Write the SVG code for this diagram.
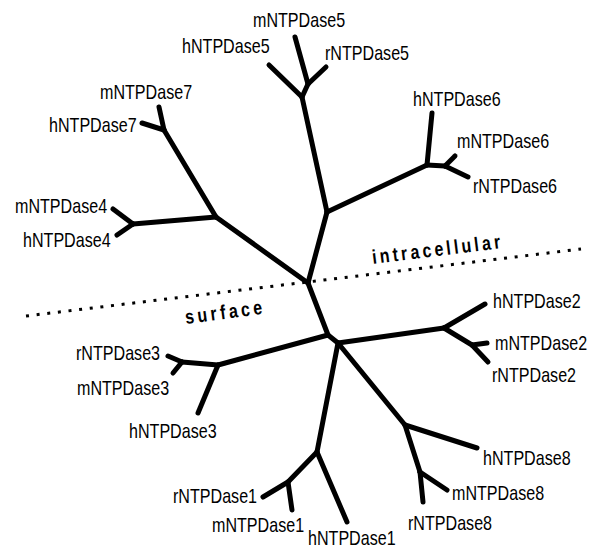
<svg xmlns="http://www.w3.org/2000/svg" width="592" height="549" viewBox="0 0 592 549">
  <style>
    .edge { stroke: #000; stroke-width: 5; stroke-linecap: round; stroke-linejoin: round; fill: none; }
    .lbl { font-family: "Liberation Sans", Arial, sans-serif; font-size: 20px; fill: #000; }
    .zone { font-family: "Liberation Sans", Arial, sans-serif; font-size: 20px; font-weight: bold; fill: #000; }
    .membrane { stroke: #000; stroke-width: 3; stroke-dasharray: 3 7.7; fill: none; }
  </style>
  <rect width="592" height="549" fill="#fff"/>

  <!-- membrane boundary -->
  <g id="membrane">
    <line class="membrane" x1="26" y1="316" x2="581" y2="249"/>
    <text class="zone" transform="translate(373,264) rotate(-7) scale(0.8,1)" textLength="161" lengthAdjust="spacing">intracellular</text>
    <text class="zone" transform="translate(186,324) rotate(-7.5) scale(0.8,1)" textLength="97" lengthAdjust="spacing">surface</text>
  </g>

  <!-- tree branches -->
  <g id="connectors" class="edge">
    <!-- root splits -->
    <path d="M308,283 L327,212"/>
    <path d="M308,283 L216,217"/>
    <path d="M308,283 L328,335"/>
    <!-- NTPDase5 / 6 -->
    <path d="M327,212 L302,97"/>
    <path d="M327,212 L427,165"/>
    <path d="M302,97 L269,65"/>
    <path d="M302,97 L308,84"/>
    <path d="M308,84 L295,37"/>
    <path d="M308,84 L326,67"/>
    <path d="M427,165 L432,113"/>
    <path d="M427,165 L445,166"/>
    <path d="M445,166 L455,156"/>
    <path d="M445,166 L468,177"/>
    <!-- NTPDase7 / 4 -->
    <path d="M216,217 L164,130"/>
    <path d="M164,130 L159,107"/>
    <path d="M164,130 L142,123"/>
    <path d="M216,217 L133,224"/>
    <path d="M133,224 L113,209"/>
    <path d="M133,224 L117,235"/>
    <!-- NTPDase3 -->
    <path d="M328,335 L218,365"/>
    <path d="M218,365 L182,362"/>
    <path d="M182,362 L168,356"/>
    <path d="M182,362 L173,373"/>
    <path d="M218,365 L198,413"/>
    <!-- NTPDase2 -->
    <path d="M328,335 L338,343"/>
    <path d="M338,343 L444,328"/>
    <path d="M444,328 L485,304"/>
    <path d="M444,328 L472,345"/>
    <path d="M472,345 L487,343"/>
    <path d="M472,345 L488,362"/>
    <!-- NTPDase1 -->
    <path d="M338,343 L317,452"/>
    <path d="M317,452 L347,522"/>
    <path d="M317,452 L288,482"/>
    <path d="M288,482 L263,497"/>
    <path d="M288,482 L292,510"/>
    <!-- NTPDase8 -->
    <path d="M338,343 L405,425"/>
    <path d="M405,425 L477,448"/>
    <path d="M405,425 L420,472"/>
    <path d="M420,472 L423,502"/>
    <path d="M420,472 L447,490"/>
  </g>

  <!-- leaf labels (condensed sans, scaled horizontally) -->
  <g id="leaf-mNTPDase5"><text class="lbl" transform="translate(253,27) scale(0.805,1)">mNTPDase5</text></g>
  <g id="leaf-hNTPDase5"><text class="lbl" transform="translate(182,53) scale(0.805,1)">hNTPDase5</text></g>
  <g id="leaf-rNTPDase5"><text class="lbl" transform="translate(325,60) scale(0.805,1)">rNTPDase5</text></g>
  <g id="leaf-hNTPDase6"><text class="lbl" transform="translate(413,106) scale(0.805,1)">hNTPDase6</text></g>
  <g id="leaf-mNTPDase6"><text class="lbl" transform="translate(457,148) scale(0.805,1)">mNTPDase6</text></g>
  <g id="leaf-rNTPDase6"><text class="lbl" transform="translate(473,193) scale(0.805,1)">rNTPDase6</text></g>
  <g id="leaf-mNTPDase7"><text class="lbl" transform="translate(100,99) scale(0.805,1)">mNTPDase7</text></g>
  <g id="leaf-hNTPDase7"><text class="lbl" transform="translate(49,132) scale(0.805,1)">hNTPDase7</text></g>
  <g id="leaf-mNTPDase4"><text class="lbl" transform="translate(15,213) scale(0.805,1)">mNTPDase4</text></g>
  <g id="leaf-hNTPDase4"><text class="lbl" transform="translate(23,247) scale(0.805,1)">hNTPDase4</text></g>
  <g id="leaf-rNTPDase3"><text class="lbl" transform="translate(76,360) scale(0.805,1)">rNTPDase3</text></g>
  <g id="leaf-mNTPDase3"><text class="lbl" transform="translate(77,395) scale(0.805,1)">mNTPDase3</text></g>
  <g id="leaf-hNTPDase3"><text class="lbl" transform="translate(129,438) scale(0.805,1)">hNTPDase3</text></g>
  <g id="leaf-hNTPDase2"><text class="lbl" transform="translate(493,308) scale(0.805,1)">hNTPDase2</text></g>
  <g id="leaf-mNTPDase2"><text class="lbl" transform="translate(495,350) scale(0.805,1)">mNTPDase2</text></g>
  <g id="leaf-rNTPDase2"><text class="lbl" transform="translate(492,382) scale(0.805,1)">rNTPDase2</text></g>
  <g id="leaf-rNTPDase1"><text class="lbl" transform="translate(173,503) scale(0.805,1)">rNTPDase1</text></g>
  <g id="leaf-mNTPDase1"><text class="lbl" transform="translate(212,532) scale(0.805,1)">mNTPDase1</text></g>
  <g id="leaf-hNTPDase1"><text class="lbl" transform="translate(308,545) scale(0.805,1)">hNTPDase1</text></g>
  <g id="leaf-hNTPDase8"><text class="lbl" transform="translate(483,465) scale(0.805,1)">hNTPDase8</text></g>
  <g id="leaf-mNTPDase8"><text class="lbl" transform="translate(452,500) scale(0.805,1)">mNTPDase8</text></g>
  <g id="leaf-rNTPDase8"><text class="lbl" transform="translate(408,530) scale(0.805,1)">rNTPDase8</text></g>
</svg>
